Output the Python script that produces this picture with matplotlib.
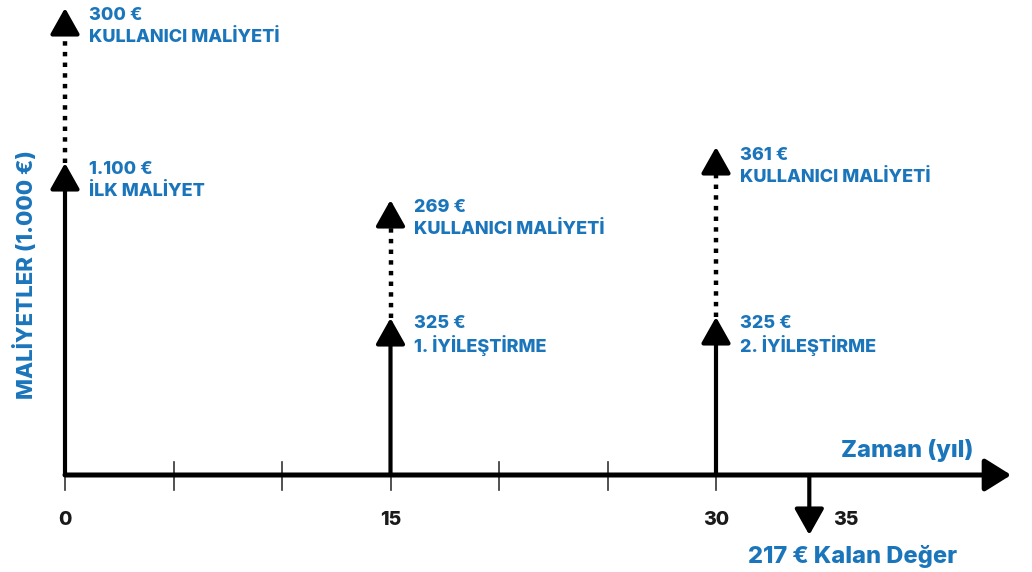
import matplotlib.pyplot as plt

# schematic cash-flow diagram (arrow heights are drawn, not to scale)
cost_years = [0, 15, 30]
cost_values = ['1.100 €', '325 €', '325 €']
cost_names = ['İLK MALİYET', '1. İYİLEŞTİRME', '2. İYİLEŞTİRME']
cost_heights = [312, 157, 158]

user_values = ['300 €', '269 €', '361 €']
user_names = ['KULLANICI MALİYETİ', 'KULLANICI MALİYETİ', 'KULLANICI MALİYETİ']
user_heights = [467, 275, 328]

residual_year = 34.3
residual_depth = -60
residual_label = '217 € Kalan Değer'

tick_years = [0, 5, 10, 15, 20, 25, 30]
label_years = [0, 15, 30, 35]

BLUE = '#1b75bb'
plt.rcParams['font.family'] = ['Inter', 'DejaVu Sans']

fig = plt.figure(figsize=(10.32, 5.72), dpi=100)
ax = fig.add_axes([0, 0, 1, 1])
ax.set_xlim(-65 / 21.7, (1032 - 65) / 21.7)
ax.set_ylim(-97, 475)
ax.axis('off')

head = '-|>,head_length=0.8,head_width=0.45'
head_len = 22  # in y data units (px)


def arrow(x, y0, y1, lw=3.0):
    ax.annotate('', xy=(x, y1), xytext=(x, y0),
                arrowprops=dict(arrowstyle=head, lw=lw, color='black',
                                mutation_scale=20, shrinkA=0, shrinkB=0))


# time axis
ax.annotate('', xy=(43.6, 0), xytext=(0, 0),
            arrowprops=dict(arrowstyle='-|>,head_length=0.8,head_width=0.5', lw=3.6,
                            color='black', mutation_scale=20, shrinkA=0, shrinkB=0))
for t in tick_years:
    ax.plot([t, t], [-15, 13], color='#333333', lw=1.2, zorder=1)

for yr in label_years:
    dx = 15 if yr == 35 else 0
    ax.annotate(str(yr), xy=(yr, -45), xytext=(dx, 0), textcoords='offset points',
                ha='center', va='center', fontsize=14, fontweight=800, color='#1a1a1a')

# costs (solid) and user costs (dotted)
for yr, h, uh, cv, cn, uv, un in zip(cost_years, cost_heights, user_heights,
                                      cost_values, cost_names, user_values, user_names):
    arrow(yr, 0, h)
    ax.plot([yr, yr], [h, uh - head_len + 2], color='black', lw=3.2,
            linestyle=(0, (1, 1.4)), solid_capstyle='butt', dash_capstyle='butt')
    arrow(yr, uh - head_len, uh)
    ax.annotate(cv, xy=(yr, h - 6), xytext=(17, 0), textcoords='offset points',
                ha='left', va='center', fontsize=13, fontweight=800, color=BLUE)
    ax.annotate(cn, xy=(yr, h - 28), xytext=(17, 0), textcoords='offset points',
                ha='left', va='center', fontsize=13, fontweight=800, color=BLUE)
    ax.annotate(uv, xy=(yr, uh - 8), xytext=(17, 0), textcoords='offset points',
                ha='left', va='center', fontsize=13, fontweight=800, color=BLUE)
    ax.annotate(un, xy=(yr, uh - 30), xytext=(17, 0), textcoords='offset points',
                ha='left', va='center', fontsize=13, fontweight=800, color=BLUE)

# residual value
arrow(residual_year, 0, residual_depth)
ax.text(36.3, -81, residual_label, ha='center', va='center',
        fontsize=17, fontweight=800, color=BLUE)

ax.text(38.8, 25, 'Zaman (yıl)', ha='center', va='center',
        fontsize=17, fontweight=800, color=BLUE)
ax.text(-1.85, 200, 'MALİYETLER (1.000 €)', rotation=90, ha='center', va='center',
        fontsize=16, fontweight=800, color=BLUE)

fig.savefig('out.png', dpi=100)
